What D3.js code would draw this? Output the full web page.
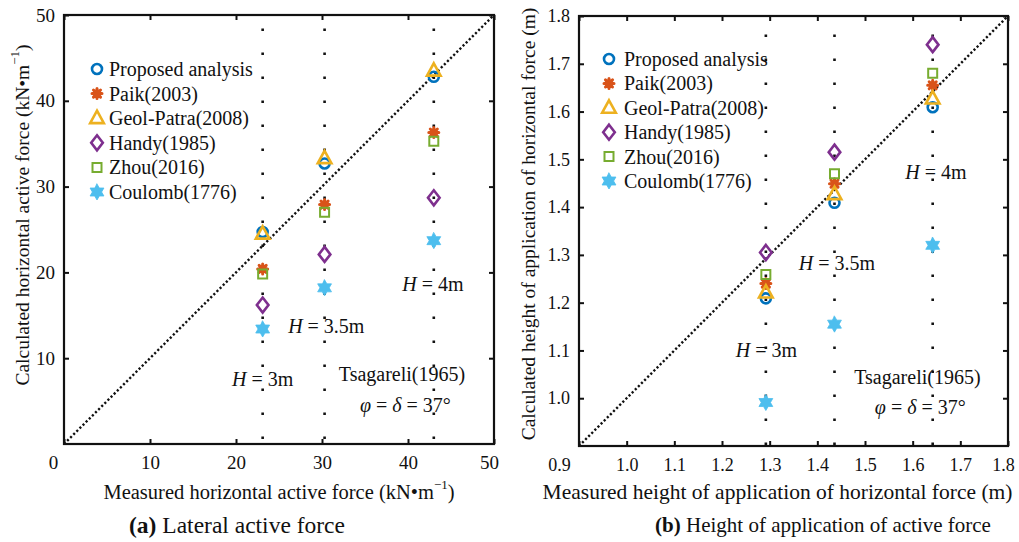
<!DOCTYPE html>
<html>
<head>
<meta charset="utf-8">
<script src="https://cdn.jsdelivr.net/npm/d3@7"></script>
<style>
  html, body { margin: 0; padding: 0; background: #fff; }
  svg { display: block; font-family: "Liberation Serif", "DejaVu Serif", serif; }
</style>
</head>
<body>
<svg id="chart" width="1019" height="542"></svg>
<script>
// ---------- DATA ----------
const seriesNames = ["Proposed analysis", "Paik(2003)", "Geol-Patra(2008)", "Handy(1985)", "Zhou(2016)", "Coulomb(1776)"];

// Panel (a): lateral active force (kN/m)
const measuredForce = [23.1, 30.3, 43.0];
const proposedForce = [24.7, 32.7, 42.8];
const paikForce     = [20.4, 27.9, 36.3];
const geolForce     = [24.5, 33.3, 43.5];
const handyForce    = [16.2, 22.1, 28.7];
const zhouForce     = [19.8, 27.0, 35.3];
const coulombForce  = [13.4, 18.2, 23.7];
const forceTicksX = [0, 10, 20, 30, 40, 50];
const forceTicksY = [10, 20, 30, 40, 50];

// Panel (b): height of application (m)
const measuredHeight = [1.292, 1.436, 1.642];
const proposedHeight = [1.209, 1.409, 1.609];
const paikHeight     = [1.240, 1.449, 1.655];
const geolHeight     = [1.221, 1.427, 1.627];
const handyHeight    = [1.305, 1.515, 1.740];
const zhouHeight     = [1.259, 1.470, 1.680];
const coulombHeight  = [0.991, 1.155, 1.320];
const heightTicksX = [0.9, 1.0, 1.1, 1.2, 1.3, 1.4, 1.5, 1.6, 1.7, 1.8];
const heightTicksY = [1.0, 1.1, 1.2, 1.3, 1.4, 1.5, 1.6, 1.7, 1.8];

const heightLabels = ["H = 3m", "H = 3.5m", "H = 4m"];

// ---------- STYLE ----------
const colors = ["#0072BD", "#D95319", "#EDB120", "#7E2F8E", "#77AC30", "#4DBEEE"];

// custom symbol types
const symCircle = { draw(c, s) { const r = 5; c.moveTo(r, 0); c.arc(0, 0, r, 0, 2 * Math.PI); } };
const symTriangle = { draw(c, s) { const h = 6.5; c.moveTo(0, -h - 1); c.lineTo(h * 1.05, h * 0.75); c.lineTo(-h * 1.05, h * 0.75); c.closePath(); } };
const symDiamond = { draw(c, s) { c.moveTo(0, -7.5); c.lineTo(5.8, 0); c.lineTo(0, 7.5); c.lineTo(-5.8, 0); c.closePath(); } };
const symSquare = { draw(c, s) { const a = 4.5; c.moveTo(-a, -a); c.lineTo(a, -a); c.lineTo(a, a); c.lineTo(-a, a); c.closePath(); } };
const symHexagram = { draw(c, s) {
  const R = 8, r = R / Math.sqrt(3);
  for (let k = 0; k < 12; k++) {
    const ang = -Math.PI / 2 + k * Math.PI / 6;
    const rad = k % 2 === 0 ? R : r;
    const x = rad * Math.cos(ang), y = rad * Math.sin(ang);
    if (k === 0) c.moveTo(x, y); else c.lineTo(x, y);
  }
  c.closePath();
} };
const symAsterisk = { draw(c, s) {
  const L = 5;
  for (let k = 0; k < 4; k++) {
    const a = k * Math.PI / 4;
    c.moveTo(-L * Math.cos(a), -L * Math.sin(a));
    c.lineTo(L * Math.cos(a), L * Math.sin(a));
  }
} };
const markerDefs = [
  { type: symCircle,   fill: "none", sw: 2.6 },
  { type: symAsterisk, fill: "none", sw: 3.0 },
  { type: symTriangle, fill: "none", sw: 2.6 },
  { type: symDiamond,  fill: "none", sw: 2.6 },
  { type: symSquare,   fill: "none", sw: 2.0 },
  { type: symHexagram, fill: "fill", sw: 0.8 }
];

const svg = d3.select("#chart");
const fontTick = 19;

function drawMarker(g, i, x, y) {
  const m = markerDefs[i];
  g.append("path")
    .attr("d", d3.symbol().type(m.type)())
    .attr("transform", `translate(${x},${y})`)
    .attr("stroke", colors[i])
    .attr("stroke-width", m.sw)
    .attr("stroke-linecap", "round")
    .attr("fill", m.fill === "fill" ? colors[i] : "none");
  if (i === 1) {
    g.append("circle").attr("cx", x).attr("cy", y).attr("r", 4).attr("fill", colors[i]);
  }
}

function richText(g, x, y, parts, size, anchor) {
  const t = g.append("text").attr("x", x).attr("y", y)
    .attr("font-size", size).attr("text-anchor", anchor || "middle")
    .attr("dominant-baseline", "central").attr("fill", "#111");
  parts.forEach(p => {
    const ts = t.append("tspan").text(p.t);
    if (p.i) ts.attr("font-style", "italic");
    if (p.b) ts.attr("font-weight", "bold");
  });
  return t;
}

function hLabel(str) {
  return [{ t: "H", i: true }, { t: str.slice(1) }];
}

function panel(opt) {
  const { x, y, xTicks, yTicks, seriesX, seriesY, xFmt, yFmt, vLine, dashOffset,
          legend, ann, xLabel, yLabel, caption, yLabelX, firstShift, fsTick } = opt;
  const g = svg.append("g");
  const [x0, x1] = x.range(), [y0, y1] = y.range();

  // diagonal 1:1 line
  const dom = x.domain();
  const lo = Math.max(dom[0], y.domain()[0]), hi = Math.min(dom[1], y.domain()[1]);
  g.append("line")
    .attr("x1", x(lo)).attr("y1", y(lo)).attr("x2", x(hi)).attr("y2", y(hi))
    .attr("stroke", "#111").attr("stroke-width", 2.4)
    .attr("stroke-dasharray", "2.2,2.2");

  // vertical dotted lines at measured positions
  seriesX.forEach(v => {
    g.append("line")
      .attr("x1", x(v)).attr("x2", x(v))
      .attr("y1", y(vLine[0])).attr("y2", y(vLine[1]))
      .attr("stroke", "#111").attr("stroke-width", 2.6)
      .attr("stroke-dasharray", "2.4,21.6").attr("stroke-dashoffset", dashOffset);
  });

  // axes (inward ticks, all four sides)
  const axB = g.append("g").attr("transform", `translate(0,${y0})`)
    .call(d3.axisBottom(x).tickValues(xTicks).tickSize(-5).tickPadding(12).tickFormat(xFmt));
  const axT = g.append("g").attr("transform", `translate(0,${y1})`)
    .call(d3.axisTop(x).tickValues(xTicks).tickSize(-5).tickFormat(""));
  const axL = g.append("g").attr("transform", `translate(${x0},0)`)
    .call(d3.axisLeft(y).tickValues(yTicks).tickSize(-5).tickPadding(9).tickFormat(yFmt));
  const axR = g.append("g").attr("transform", `translate(${x1},0)`)
    .call(d3.axisRight(y).tickValues(yTicks).tickSize(-5).tickFormat(""));
  [axB, axT, axL, axR].forEach(a => {
    a.select(".domain").remove();
    a.selectAll(".tick line").attr("stroke", "#111").attr("stroke-width", 2);
    a.selectAll(".tick text").attr("font-size", fsTick).attr("fill", "#111")
      .attr("font-family", "Liberation Serif");
  });
  axB.selectAll(".tick text").filter((d, i) => i === 0).attr("dx", firstShift);
  axB.selectAll(".tick text").filter((d, i) => i === xTicks.length - 1).attr("dx", -5);

  // frame
  g.append("rect").attr("x", x0).attr("y", y1).attr("width", x1 - x0).attr("height", y0 - y1)
    .attr("fill", "none").attr("stroke", "#111").attr("stroke-width", 2.2);

  // data markers
  seriesY.forEach((vals, i) => {
    vals.forEach((v, j) => drawMarker(g, i, x(seriesX[j]), y(v)));
  });

  // legend
  seriesNames.forEach((name, i) => {
    const ly = legend.y + i * legend.dy;
    drawMarker(g, i, legend.mx, ly);
    g.append("text").attr("x", legend.tx).attr("y", ly)
      .attr("dominant-baseline", "central").attr("font-size", legend.fs)
      .attr("fill", "#111").text(name);
  });

  // annotations
  ann.forEach(a => richText(g, x(a.x), y(a.y), a.parts, 20, "middle"));

  // axis labels
  g.append("text").attr("x", (x0 + x1) / 2 + xLabel.dx).attr("y", xLabel.y)
    .attr("text-anchor", "middle").attr("dominant-baseline", "central")
    .attr("font-size", xLabel.fs).attr("fill", "#111").html(xLabel.html);
  g.append("text")
    .attr("transform", `translate(${yLabelX},${yLabel.cy}) rotate(-90)`)
    .attr("text-anchor", "middle").attr("dominant-baseline", "central")
    .attr("font-size", yLabel.fs).attr("fill", "#111").html(yLabel.html);

  // caption
  richText(g, caption.x, caption.y, caption.parts, caption.fs, "middle");
}

// ---------- PANEL (a) ----------
const xa = d3.scaleLinear().domain([0, 50]).range([64, 494]);
const ya = d3.scaleLinear().domain([0, 50]).range([444, 15]);
panel({
  x: xa, y: ya, xTicks: forceTicksX, yTicks: forceTicksY,
  seriesX: measuredForce,
  seriesY: [proposedForce, paikForce, geolForce, handyForce, zhouForce, coulombForce],
  xFmt: d3.format("d"), yFmt: d3.format("d"),
  vLine: [0, 50], dashOffset: 19, firstShift: -11, fsTick: fontTick,
  legend: { mx: 97, tx: 109, y: 69, dy: 24.6, fs: 20 },
  ann: [
    { x: 23.1, y: 7.6, parts: hLabel(heightLabels[0]) },
    { x: 30.5, y: 13.8, parts: hLabel(heightLabels[1]) },
    { x: 42.9, y: 18.6, parts: hLabel(heightLabels[2]) },
    { x: 39.3, y: 8.2, parts: [{ t: "Tsagareli(1965)" }] },
    { x: 39.7, y: 4.6, parts: [{ t: "φ", i: true }, { t: " = " }, { t: "δ", i: true }, { t: " = 37°" }] }
  ],
  xLabel: { y: 492, dx: 0, fs: 20.5, html: 'Measured horizontal active force (kN•m<tspan dy="-8" font-size="13">−1</tspan><tspan dy="8">)</tspan>' },
  yLabel: { cy: 215, fs: 19.5, html: 'Calculated horizontal active force (kN•m<tspan dy="-8" font-size="13">−1</tspan><tspan dy="8">)</tspan>' },
  yLabelX: 22,
  caption: { x: 237, y: 525, fs: 23.5, parts: [{ t: "(a)", b: true }, { t: "  Lateral active force" }] }
});

// ---------- PANEL (b) ----------
const xb = d3.scaleLinear().domain([0.9, 1.8]).range([579, 1008]);
const yb = d3.scaleLinear().domain([0.9, 1.8]).range([446, 16]);
panel({
  x: xb, y: yb, xTicks: heightTicksX, yTicks: heightTicksY,
  seriesX: measuredHeight,
  seriesY: [proposedHeight, paikHeight, geolHeight, handyHeight, zhouHeight, coulombHeight],
  xFmt: d3.format(".1f"), yFmt: d3.format(".1f"),
  vLine: [0.9, 1.8], dashOffset: 23, firstShift: -20, fsTick: 18,
  legend: { mx: 609, tx: 624, y: 59, dy: 24.4, fs: 20 },
  ann: [
    { x: 1.293, y: 1.100, parts: hLabel(heightLabels[0]) },
    { x: 1.441, y: 1.284, parts: hLabel(heightLabels[1]) },
    { x: 1.649, y: 1.473, parts: hLabel(heightLabels[2]) },
    { x: 1.610, y: 1.044, parts: [{ t: "Tsagareli(1965)" }] },
    { x: 1.616, y: 0.981, parts: [{ t: "φ", i: true }, { t: " = " }, { t: "δ", i: true }, { t: " = 37°" }] }
  ],
  xLabel: { y: 492, dx: -16, fs: 21.5, html: 'Measured height of application of horizontal force (m)' },
  yLabel: { cy: 224, fs: 19.5, html: 'Calculated height of application of horizontal force (m)' },
  yLabelX: 528,
  caption: { x: 823, y: 525, fs: 21, parts: [{ t: "(b)", b: true }, { t: " Height of application of active force" }] }
});
</script>
</body>
</html>
